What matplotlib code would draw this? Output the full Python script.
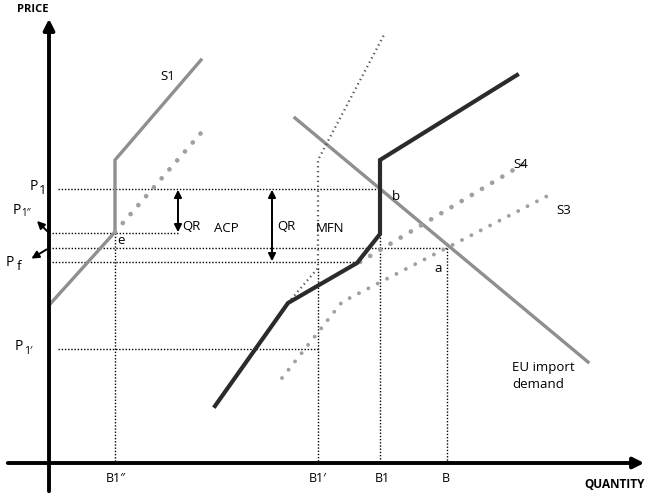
import matplotlib
matplotlib.use("Agg")
import matplotlib.pyplot as plt

plt.rcParams['font.family'] = ['Open Sans', 'DejaVu Sans']

# diagram coordinates (image pixel space, y down)
s1_x = [51, 115, 115, 201]
s1_y = [303, 232, 160, 60]
s1_dot_x = [115, 201]
s1_dot_y = [232, 133]

demand_x = [295, 588]
demand_y = [118, 362]

black_x = [215, 288, 357, 380, 380, 517]
black_y = [406, 303, 263, 234, 160, 75]

mfn_x = [288, 318, 318, 385]
mfn_y = [303, 268, 160, 33]

s3_x = [282, 342, 555]
s3_y = [378, 302, 192]
s4_x = [360, 525]
s4_y = [262, 163]

# horizontal guide lines: (y, x_start, x_end)
h_lines = [(189, 58, 380), (233, 52, 178), (248, 52, 447), (262, 52, 360), (349, 58, 318)]
# vertical guide lines: (x, y_top, y_bottom)
v_lines = [(115, 233, 463), (318, 268, 463), (380, 234, 463), (447, 248, 463)]

x_ticks = [116, 318, 382, 446]
x_labels = ["B1\u2033", "B1\u2032", "B1", "B"]

# price labels: (x, y, main, sub, sub size)
p_labels = [(34, 187, "P", "1", 9.5), (17, 210, "P", "1\u2033", 7), (10, 262, "P", "f", 9.5),
            (19, 347, "P", "1\u2032", 7.5)]

fig = plt.figure(figsize=(6.5, 4.96), dpi=100)
ax = fig.add_axes([0, 0, 1, 1])
ax.set_xlim(0, 650)
ax.set_ylim(496, 0)
ax.axis('off')

grey = '#8f8f8f'
dot_style = dict(color='#a0a0a0', lw=3.4, linestyle=(0, (0.01, 2.5)), dash_capstyle='round')
fine = dict(color='black', lw=1.0, linestyle=(0, (1, 1.3)))

for y, xa, xb in h_lines:
    ax.plot([xa, xb], [y, y], **fine)
for x, ya, yb in v_lines:
    ax.plot([x, x], [ya, yb], **fine)

ax.plot(s1_x, s1_y, color=grey, lw=2.4, solid_joinstyle='miter')
ax.plot(s1_dot_x, s1_dot_y, **dot_style)
ax.plot(demand_x, demand_y, color=grey, lw=2.4)
ax.plot(mfn_x, mfn_y, color='#555555', lw=1.6, linestyle=(0, (0.6, 1.6)))
ax.plot(s3_x, s3_y, color='#a0a0a0', lw=2.8, linestyle=(0, (0.01, 2.7)), dash_capstyle='round')
ax.plot(s4_x, s4_y, **dot_style)
ax.plot(black_x, black_y, color='#2b2b2b', lw=3.0, solid_joinstyle='miter')

# axes
ax.annotate('', xy=(49, 16), xytext=(49, 494),
            arrowprops=dict(arrowstyle='-|>', lw=2.8, color='black', mutation_scale=16))
ax.annotate('', xy=(647, 463), xytext=(5, 463),
            arrowprops=dict(arrowstyle='-|>', lw=2.8, color='black', mutation_scale=16))
ax.text(33, 10, "PRICE", fontsize=8, fontweight='bold', ha='center', va='center')
ax.text(615, 484, "QUANTITY", fontsize=8.5, fontweight='bold', ha='center', va='center')

for x, lab in zip(x_ticks, x_labels):
    ax.text(x, 479, lab, fontsize=9, ha='center', va='center')

# QR arrows
ax.annotate('', xy=(178, 187), xytext=(178, 235),
            arrowprops=dict(arrowstyle='<|-|>', lw=1.4, color='black', mutation_scale=11))
ax.annotate('', xy=(272, 187), xytext=(272, 264),
            arrowprops=dict(arrowstyle='<|-|>', lw=1.4, color='black', mutation_scale=11))
# price label arrows
ax.annotate('', xy=(35, 219), xytext=(49, 233),
            arrowprops=dict(arrowstyle='-|>', lw=1.4, color='black', mutation_scale=11))
ax.annotate('', xy=(29, 260), xytext=(49, 248),
            arrowprops=dict(arrowstyle='-|>', lw=1.4, color='black', mutation_scale=11))

for x, y, main, sub, ss in p_labels:
    ax.text(x, y, main, fontsize=10, ha='center', va='center')
    ax.text(x + 9, y + 4, sub, fontsize=ss, ha='center', va='center')

fs = 9.5
ax.text(168, 76, "S1", fontsize=fs, ha='center', va='center')
ax.text(121, 240, "e", fontsize=fs, ha='center', va='center')
ax.text(191, 226, "QR", fontsize=fs, ha='center', va='center')
ax.text(226, 228, "ACP", fontsize=fs, ha='center', va='center')
ax.text(286, 226, "QR", fontsize=fs, ha='center', va='center')
ax.text(330, 228, "MFN", fontsize=fs, ha='center', va='center')
ax.text(396, 196, "b", fontsize=fs, ha='center', va='center')
ax.text(438, 268, "a", fontsize=fs, ha='center', va='center')
ax.text(521, 165, "S4", fontsize=fs, ha='center', va='center')
ax.text(564, 211, "S3", fontsize=fs, ha='center', va='center')
ax.text(512, 376, "EU import\ndemand", fontsize=fs, ha='left', va='center', linespacing=1.5)

fig.savefig("out.png", dpi=100)
